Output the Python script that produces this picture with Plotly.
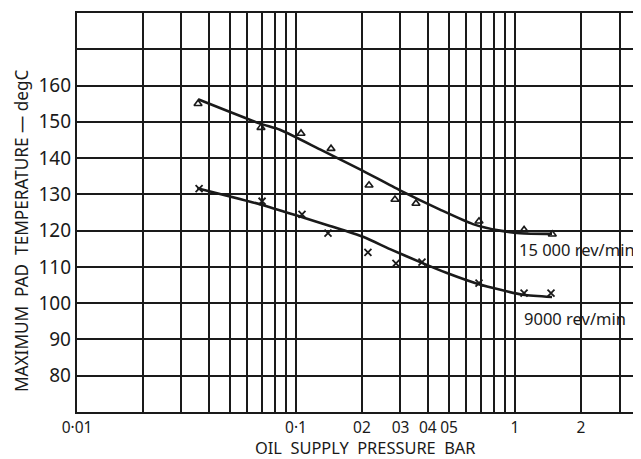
import math

import plotly.graph_objects as go

# ── Data ──────────────────────────────────────────────────────────────────────

# 15 000 rev/min: measured points (triangles) and faired curve
p15_pts = [0.0357, 0.0692, 0.1054, 0.1445, 0.2155, 0.283, 0.353, 0.685, 1.10, 1.48]
t15_pts = [155.0, 148.4, 146.8, 142.6, 132.5, 128.6, 127.5, 122.6, 120.2, 119.0]
p15_fit = [0.0357, 0.0685, 0.0845, 0.1287, 0.196, 0.2985, 0.4545, 0.643, 0.854, 1.054, 1.476]
t15_fit = [156.2, 149.5, 147.8, 142.4, 136.9, 131.1, 125.8, 121.8, 120.0, 119.3, 119.1]

# 9000 rev/min: measured points (crosses) and faired curve
p9_pts = [0.0361, 0.070, 0.1065, 0.140, 0.213, 0.286, 0.376, 0.685, 1.10, 1.46]
t9_pts = [131.6, 128.1, 124.5, 119.3, 114.0, 111.0, 111.3, 105.5, 102.8, 102.8]
p9_fit = [0.0354, 0.070, 0.1043, 0.143, 0.2023, 0.2687, 0.376, 0.489, 0.678, 1.088, 1.476]
t9_fit = [131.7, 127.1, 123.9, 121.3, 118.3, 114.9, 111.1, 108.3, 105.3, 102.3, 101.7]

# grid lines and tick labels (as printed on the scan)
x_grid = [0.02, 0.03, 0.04, 0.05, 0.06, 0.07, 0.08, 0.09,
          0.1, 0.2, 0.3, 0.4, 0.5, 0.6, 0.7, 0.8, 0.9, 1, 2, 3]
x_labels = {0.01: "0·01", 0.1: "0·1", 0.2: "02", 0.3: "03",
            0.4: "04", 0.5: "05", 1: "1", 2: "2"}
y_grid = [70, 80, 90, 100, 110, 120, 130, 140, 150, 160, 170, 180]
y_labels = [80, 90, 100, 110, 120, 130, 140, 150, 160]

NUM_FONT = "Noto Sans, DejaVu Sans, sans-serif"
TITLE_FONT = "Noto Sans, DejaVu Sans, sans-serif"
INK = "#1a1a1a"

fig = go.Figure()

for px, ty in ((p15_fit, t15_fit), (p9_fit, t9_fit)):
    fig.add_trace(go.Scatter(
        x=px, y=ty, mode="lines",
        line=dict(color=INK, width=2.6, shape="spline", smoothing=0.6),
        showlegend=False, hoverinfo="skip",
    ))
fig.add_trace(go.Scatter(
    x=p15_pts, y=t15_pts, mode="markers",
    marker=dict(symbol="triangle-up-open", size=7, color=INK, line=dict(width=1.6)),
    name="15 000 rev/min",
))
fig.add_trace(go.Scatter(
    x=p9_pts, y=t9_pts, mode="markers",
    marker=dict(symbol="x-thin-open", size=7, color=INK, line=dict(width=1.8, color=INK)),
    name="9000 rev/min",
))

fig.add_annotation(x=math.log10(1.02), y=114.9, text="15 000 rev/min",
                   showarrow=False, xanchor="left", yanchor="middle",
                   font=dict(family=NUM_FONT, size=16.5, color=INK))
fig.add_annotation(x=math.log10(1.077), y=95.8, text="9000 rev/min",
                   showarrow=False, xanchor="left", yanchor="middle",
                   font=dict(family=NUM_FONT, size=16.5, color=INK))

# axis titles
fig.add_annotation(x=-0.0993, y=0.456, xref="paper", yref="paper",
                   xanchor="center", yanchor="middle",
                   text="MAXIMUM  PAD  TEMPERATURE — degC", textangle=-90,
                   showarrow=False, font=dict(family=TITLE_FONT, size=17.2, color=INK))
fig.add_annotation(x=0.512, y=-0.090, xref="paper", yref="paper",
                   xanchor="center", yanchor="middle",
                   text="OIL  SUPPLY  PRESSURE  BAR",
                   showarrow=False, font=dict(family=TITLE_FONT, size=16.4, color=INK))

x_ticks = [0.01] + x_grid
fig.update_xaxes(
    type="log", range=[-2, 0.5753],
    tickvals=x_ticks, ticktext=[x_labels.get(v, "") for v in x_ticks],
    tickangle=0, ticks="", showgrid=True, gridcolor=INK, gridwidth=1.6,
    showline=True, linecolor=INK, linewidth=2.4, mirror=True,
    tickfont=dict(family=NUM_FONT, size=15.5, color=INK),
    ticklabelstandoff=0, zeroline=False,
)
fig.update_yaxes(
    range=[70, 180],
    tickvals=y_grid, ticktext=[str(v) if v in y_labels else "" for v in y_grid],
    ticks="", showgrid=True, gridcolor=INK, gridwidth=1.6,
    showline=True, linecolor=INK, linewidth=2.4,
    tickfont=dict(family=NUM_FONT, size=19, color=INK),
    ticklabelstandoff=0, zeroline=False,
)

# the page body keeps its default 8 px margin, so the figure is 8 px smaller
fig.update_layout(
    width=633, height=451,
    margin=dict(l=69, r=0, t=5, b=47),
    plot_bgcolor="white", paper_bgcolor="white",
    showlegend=False,
)

fig.write_html("out.html")
